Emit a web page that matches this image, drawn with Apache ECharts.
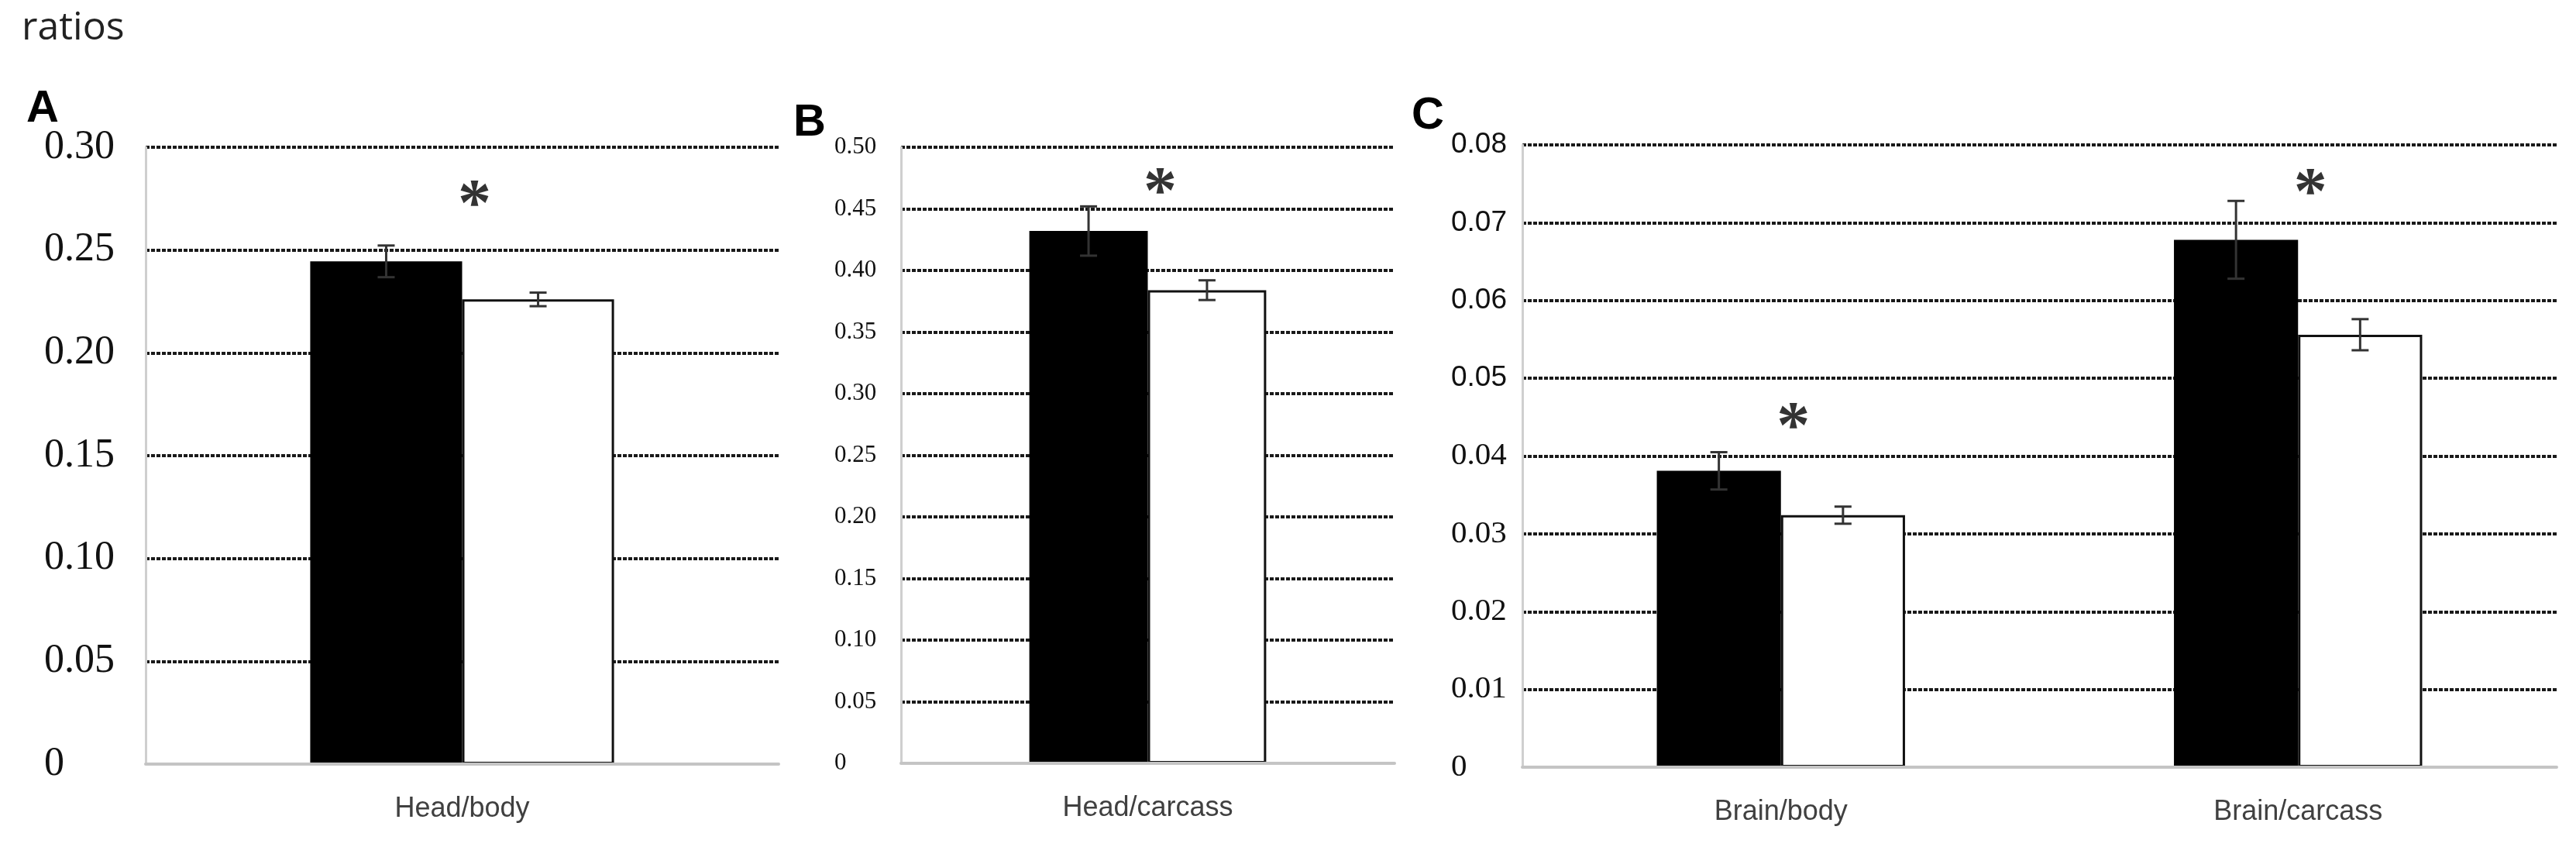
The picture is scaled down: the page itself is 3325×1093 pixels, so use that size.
<!DOCTYPE html>
<html>
<head>
<meta charset="utf-8">
<script src="https://cdn.jsdelivr.net/npm/echarts@6/dist/echarts.min.js"></script>
<style>
  html, body { margin: 0; padding: 0; background: #fff; }
  #main { width: 3325px; height: 1093px; }
</style>
</head>
<body>
<div id="main"></div>
<script>
var myChart = echarts.init(document.getElementById('main'));

// panel A
var catsA = ['Head/body'];
var blackA = [0.2445], blackErrA = [0.0077];
var whiteA = [0.226], whiteErrA = [0.0033];
var starA = [0.279];
var ticksA = { min: 0, max: 0.30, interval: 0.05 };

// panel B
var catsB = ['Head/carcass'];
var blackB = [0.432], blackErrB = [0.020];
var whiteB = [0.384], whiteErrB = [0.008];
var starB = [0.475];
var ticksB = { min: 0, max: 0.50, interval: 0.05 };

// panel C
var catsC = ['Brain/body', 'Brain/carcass'];
var blackC = [0.0381, 0.0678], blackErrC = [0.0024, 0.0050];
var whiteC = [0.0324, 0.0556], whiteErrC = [0.0011, 0.0020];
var starC = [0.0456, 0.0756];
var ticksC = { min: 0, max: 0.08, interval: 0.01 };

var fmt = function (v) {
    return v === 0 ? '0' : v.toFixed(2);
};

var gridLine = {
    show: true,
    lineStyle: { color: '#1a1a1a', width: 4, type: [5, 2] }
};

var xAxisOf = function (idx, cats) {
    return {
        type: 'category',
        gridIndex: idx,
        data: cats,
        axisTick: { show: false },
        axisLine: { show: true, lineStyle: { color: '#c4c4c4', width: 4 } },
        axisLabel: {
            margin: 40,
            fontFamily: 'Liberation Sans',
            fontSize: 36,
            color: '#404040'
        },
        z: 5
    };
};

var yAxisOf = function (idx, ticks, margin, label) {
    return {
        type: 'value',
        gridIndex: idx,
        min: ticks.min,
        max: ticks.max,
        interval: ticks.interval,
        axisLine: { show: true, lineStyle: { color: '#cfcfcf', width: 3 } },
        axisTick: { show: false },
        splitLine: gridLine,
        axisLabel: Object.assign({ margin: margin, align: 'left', color: '#111' }, label)
    };
};

var barPair = function (idx, black, white) {
    return [
        {
            type: 'bar',
            xAxisIndex: idx, yAxisIndex: idx,
            data: black,
            barWidth: '24%',
            barGap: '0%',
            itemStyle: { color: '#000' },
            z: 3
        },
        {
            type: 'bar',
            xAxisIndex: idx, yAxisIndex: idx,
            data: white,
            barWidth: '24%',
            barGap: '0%',
            itemStyle: { color: '#fff', borderColor: '#111', borderWidth: 3 },
            z: 3
        }
    ];
};

// error bars: side -1 = left (black) bar, +1 = right (white) bar
var errBars = function (idx, vals, errs, side) {
    return {
        type: 'custom',
        xAxisIndex: idx, yAxisIndex: idx,
        z: 6,
        data: vals.map(function (v, i) { return [i, v, errs[i]]; }),
        renderItem: function (params, api) {
            var i = api.value(0), v = api.value(1), e = api.value(2);
            var hi = api.coord([i, v + e]);
            var lo = api.coord([i, v - e]);
            var bw = api.size([1, 0])[0] * 0.24;
            var x = hi[0] + side * bw / 2;
            var cap = 11;
            var st = { stroke: '#333', lineWidth: 3 };
            return {
                type: 'group',
                children: [
                    { type: 'line', shape: { x1: x, y1: hi[1], x2: x, y2: lo[1] }, style: st },
                    { type: 'line', shape: { x1: x - cap, y1: hi[1], x2: x + cap, y2: hi[1] }, style: st },
                    { type: 'line', shape: { x1: x - cap, y1: lo[1], x2: x + cap, y2: lo[1] }, style: st }
                ]
            };
        }
    };
};

var stars = function (idx, vals) {
    return {
        type: 'scatter',
        xAxisIndex: idx, yAxisIndex: idx,
        data: vals,
        symbol: 'circle',
        symbolSize: 2,
        itemStyle: { color: 'rgba(0,0,0,0)' },
        z: 7,
        label: {
            show: true,
            position: 'inside',
            formatter: '*',
            fontFamily: 'Liberation Serif',
            fontWeight: 'bold',
            fontSize: 86,
            color: '#000',
            offset: [16, 22]
        }
    };
};

var letter = function (txt, x, y) {
    return {
        type: 'text',
        left: x, top: y,
        style: {
            text: txt,
            font: 'bold 58px "Liberation Sans"',
            fill: '#000'
        }
    };
};

option = {
    backgroundColor: '#fff',
    animation: false,
    graphic: [
        {
            type: 'text',
            left: 28, top: 12,
            style: { text: 'ratios', font: '50px "Open Sans"', fill: '#222' }
        },
        letter('A', 34, 112),
        letter('B', 1024, 130),
        letter('C', 1822, 121)
    ],
    grid: [
        { left: 188, top: 190, width: 817, height: 796 },
        { left: 1163, top: 190, width: 637, height: 795 },
        { left: 1965, top: 187, width: 1335, height: 803 }
    ],
    xAxis: [
        xAxisOf(0, catsA),
        xAxisOf(1, catsB),
        xAxisOf(2, catsC)
    ],
    yAxis: [
        yAxisOf(0, ticksA, 131, { fontFamily: 'Liberation Serif', fontSize: 52, formatter: fmt }),
        yAxisOf(1, ticksB, 86, { fontFamily: 'Liberation Serif', fontSize: 31, formatter: fmt }),
        yAxisOf(2, ticksC, 92, {
            formatter: function (v) {
                return v >= 0.05 ? '{s|' + fmt(v) + '}' : '{t|' + fmt(v) + '}';
            },
            rich: {
                s: { fontFamily: 'Liberation Sans', fontSize: 37, color: '#111' },
                t: { fontFamily: 'Liberation Serif', fontSize: 41, color: '#111' }
            }
        })
    ],
    series: [].concat(
        barPair(0, blackA, whiteA),
        [errBars(0, blackA, blackErrA, -1), errBars(0, whiteA, whiteErrA, 1), stars(0, starA)],
        barPair(1, blackB, whiteB),
        [errBars(1, blackB, blackErrB, -1), errBars(1, whiteB, whiteErrB, 1), stars(1, starB)],
        barPair(2, blackC, whiteC),
        [errBars(2, blackC, blackErrC, -1), errBars(2, whiteC, whiteErrC, 1), stars(2, starC)]
    )
};

myChart.setOption(option);
</script>
</body>
</html>
